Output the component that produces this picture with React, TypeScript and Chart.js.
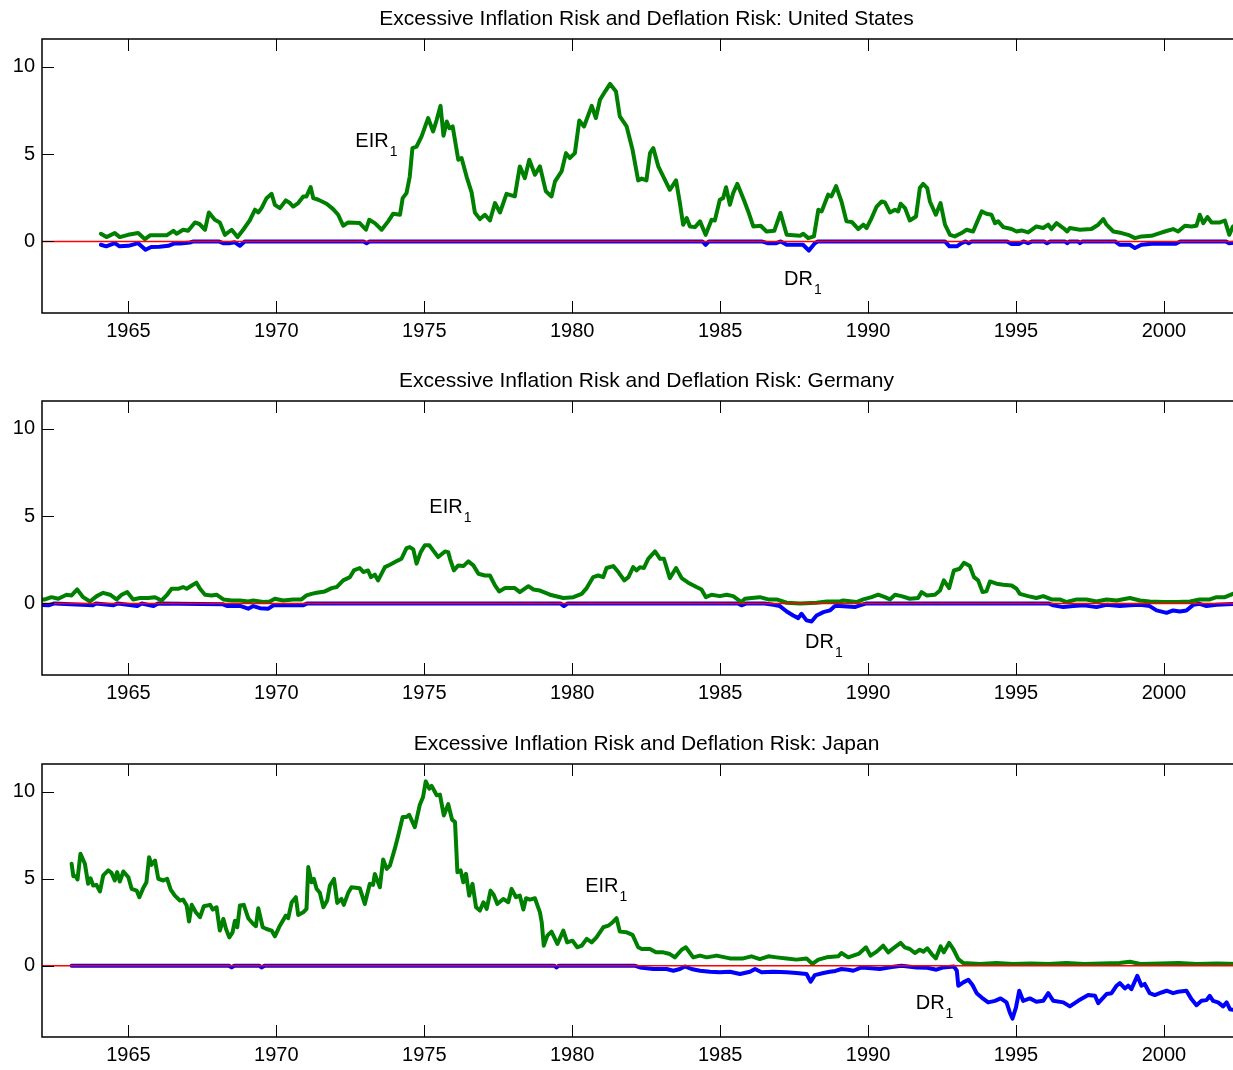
import React, { useEffect, useRef } from "react";
import { Chart, registerables } from "chart.js";

Chart.register(...registerables);

type Pt = [number, number];

// ---------- axes / ticks ----------
const xTickYears = [1965, 1970, 1975, 1980, 1985, 1990, 1995, 2000];
const yTickValues = [0, 5, 10];
const X_MIN = 1962.08;
const X_MAX = 2002.74;
const Y_MIN = -4.1;
const Y_MAX = 11.6;
const ZERO_LEVEL = 0;

// ---------- United States ----------
const usEIR: Pt[] = [
  [1964.07,0.44],[1964.26,0.25],[1964.54,0.48],[1964.71,0.25],[1964.99,0.38],[1965.33,0.48],[1965.56,0.13],[1965.73,0.35],
  [1966.29,0.35],[1966.52,0.61],[1966.63,0.44],[1966.85,0.67],[1967.02,0.61],[1967.25,1.09],[1967.4,1.0],[1967.59,0.67],
  [1967.72,1.66],[1967.92,1.24],[1968.09,1.09],[1968.26,0.38],[1968.49,0.67],[1968.69,0.25],[1968.88,0.67],[1969.1,1.2],
  [1969.28,1.82],[1969.39,1.66],[1969.5,1.91],[1969.67,2.48],[1969.84,2.73],[1969.95,2.1],[1970.12,1.91],[1970.32,2.35],
  [1970.46,2.2],[1970.57,2.0],[1970.74,2.2],[1970.91,2.58],[1971.02,2.58],[1971.16,3.11],[1971.25,2.48],[1971.42,2.39],
  [1971.7,2.16],[1971.92,1.85],[1972.09,1.53],[1972.26,0.9],[1972.43,1.09],[1972.82,1.05],[1973.03,0.67],[1973.14,1.24],
  [1973.33,1.05],[1973.56,0.67],[1973.78,1.15],[1973.95,1.59],[1974.18,1.53],[1974.27,2.48],[1974.4,2.77],[1974.51,3.72],
  [1974.6,5.35],[1974.74,5.44],[1974.91,6.02],[1975.13,7.07],[1975.3,6.3],[1975.42,6.97],[1975.55,7.77],[1975.65,6.05],
  [1975.76,6.87],[1975.85,6.49],[1975.96,6.59],[1976.15,4.68],[1976.26,4.78],[1976.43,3.72],[1976.6,2.81],[1976.71,1.66],
  [1976.88,1.28],[1977.05,1.53],[1977.22,1.2],[1977.39,2.2],[1977.56,1.66],[1977.78,2.73],[1978.06,2.58],[1978.23,4.3],
  [1978.4,3.63],[1978.55,4.68],[1978.74,3.82],[1978.91,4.3],[1979.11,2.87],[1979.3,2.58],[1979.42,3.44],[1979.64,4.01],
  [1979.79,5.06],[1979.92,4.78],[1980.09,5.06],[1980.24,6.93],[1980.4,6.59],[1980.66,7.77],[1980.8,7.07],[1980.94,8.12],
  [1981.11,8.59],[1981.28,9.03],[1981.48,8.59],[1981.61,7.16],[1981.84,6.59],[1982.04,5.25],[1982.23,3.5],[1982.35,3.6],
  [1982.51,3.5],[1982.63,5.06],[1982.74,5.35],[1982.91,4.3],[1983.08,3.72],[1983.3,2.96],[1983.51,3.5],[1983.64,2.2],
  [1983.75,0.96],[1983.87,1.34],[1983.98,0.86],[1984.15,0.82],[1984.32,1.15],[1984.51,0.38],[1984.71,1.24],[1984.82,1.2],
  [1984.99,2.39],[1985.1,2.48],[1985.2,3.11],[1985.33,2.1],[1985.44,2.77],[1985.58,3.3],[1985.8,2.39],[1985.95,1.72],
  [1986.12,0.86],[1986.37,0.9],[1986.57,0.57],[1986.83,0.61],[1987.04,1.63],[1987.25,0.38],[1987.7,0.32],[1987.81,0.44],
  [1987.98,0.19],[1988.17,0.29],[1988.32,1.82],[1988.43,1.72],[1988.65,2.68],[1988.76,2.58],[1988.92,3.17],[1989.1,2.3],
  [1989.27,1.15],[1989.45,1.12],[1989.67,0.71],[1989.84,0.96],[1989.95,0.77],[1990.12,1.34],[1990.29,2.0],[1990.46,2.29],
  [1990.57,2.24],[1990.74,1.66],[1990.91,1.82],[1991.02,1.72],[1991.1,2.16],[1991.25,1.91],[1991.41,1.2],[1991.62,1.43],
  [1991.75,3.06],[1991.86,3.3],[1992.0,3.06],[1992.09,2.29],[1992.29,1.53],[1992.45,2.2],[1992.6,0.96],[1992.77,0.38],
  [1992.93,0.29],[1993.16,0.48],[1993.33,0.67],[1993.55,0.57],[1993.67,1.05],[1993.84,1.72],[1994.0,1.59],[1994.17,1.53],
  [1994.29,1.05],[1994.4,1.15],[1994.57,0.82],[1994.85,0.71],[1995.02,0.57],[1995.19,0.63],[1995.41,0.52],[1995.69,0.86],
  [1995.92,0.77],[1996.09,0.96],[1996.2,0.71],[1996.37,1.05],[1996.6,0.77],[1996.73,0.57],[1996.82,0.77],[1997.16,0.67],
  [1997.55,0.71],[1997.78,0.96],[1997.95,1.28],[1998.06,0.96],[1998.29,0.57],[1998.57,0.48],[1998.79,0.38],[1999.02,0.19],
  [1999.24,0.29],[1999.58,0.32],[1999.86,0.48],[2000.03,0.57],[2000.31,0.71],[2000.48,0.57],[2000.71,0.9],[2000.93,0.86],
  [2001.1,0.9],[2001.21,1.53],[2001.33,1.05],[2001.47,1.4],[2001.61,1.09],[2001.89,1.09],[2002.06,1.2],[2002.21,0.38],
  [2002.33,0.86],[2002.5,1.0],
];
const usDR: Pt[] = [
  [1964.07,-0.19],[1964.25,-0.28],[1964.54,-0.1],[1964.7,-0.28],[1965.0,-0.25],[1965.33,-0.1],[1965.58,-0.48],[1965.77,-0.32],
  [1966.05,-0.3],[1966.35,-0.25],[1966.58,-0.1],[1966.75,-0.12],[1967.08,-0.06],[1967.2,0],[1968.05,0],[1968.2,-0.1],
  [1968.4,-0.1],[1968.6,-0.05],[1968.77,-0.25],[1968.93,0],[1972.95,0],[1973.05,-0.1],[1973.15,0],[1984.4,0],
  [1984.51,-0.19],[1984.62,0],[1986.4,0],[1986.6,-0.1],[1986.9,-0.1],[1987.05,0],[1987.25,-0.19],[1987.8,-0.19],
  [1988.0,-0.52],[1988.2,-0.1],[1988.3,0],[1992.6,0],[1992.75,-0.28],[1993.0,-0.28],[1993.16,-0.1],[1993.3,0],
  [1993.4,-0.1],[1993.5,0],[1994.7,0],[1994.85,-0.15],[1995.1,-0.15],[1995.25,0],[1995.41,-0.1],[1995.55,0],
  [1995.95,0],[1996.05,-0.1],[1996.15,0],[1996.65,0],[1996.73,-0.1],[1996.8,0],[1997.1,0],[1997.16,-0.1],
  [1997.25,0],[1998.35,0],[1998.5,-0.19],[1998.85,-0.19],[1999.02,-0.38],[1999.24,-0.19],[1999.6,-0.13],[2000.0,-0.13],
  [2000.4,-0.13],[2000.55,0],[2002.1,0],[2002.2,-0.1],[2002.5,-0.05],
];

// ---------- Germany ----------
const deEIR: Pt[] = [
  [1962.0,0.23],[1962.18,0.23],[1962.4,0.36],[1962.63,0.27],[1962.91,0.5],[1963.08,0.46],[1963.27,0.8],[1963.47,0.36],
  [1963.7,0.11],[1963.93,0.42],[1964.15,0.61],[1964.38,0.5],[1964.6,0.23],[1964.77,0.5],[1964.96,0.65],[1965.16,0.23],
  [1965.39,0.31],[1965.67,0.31],[1965.9,0.36],[1966.12,0.17],[1966.29,0.46],[1966.46,0.84],[1966.68,0.84],[1966.85,0.94],
  [1966.97,0.84],[1967.14,1.03],[1967.3,1.19],[1967.42,0.84],[1967.59,0.5],[1967.81,0.46],[1967.98,0.5],[1968.21,0.23],
  [1968.49,0.17],[1968.77,0.17],[1969.05,0.11],[1969.22,0.17],[1969.56,0.08],[1969.78,0.11],[1969.95,0.27],[1970.23,0.17],
  [1970.57,0.23],[1970.85,0.23],[1971.02,0.46],[1971.19,0.55],[1971.36,0.61],[1971.64,0.69],[1971.87,0.88],[1972.04,0.94],
  [1972.26,1.32],[1972.49,1.51],[1972.62,1.89],[1972.82,2.03],[1972.94,1.8],[1973.1,1.89],[1973.2,1.51],[1973.33,1.65],
  [1973.44,1.32],[1973.67,2.08],[1973.84,2.22],[1974.12,2.47],[1974.23,2.56],[1974.4,3.17],[1974.51,3.23],[1974.63,3.1],
  [1974.74,2.28],[1974.88,2.94],[1975.02,3.33],[1975.17,3.33],[1975.3,3.04],[1975.47,2.66],[1975.7,2.98],[1975.81,2.94],
  [1975.87,2.56],[1976.0,1.89],[1976.15,2.18],[1976.32,2.14],[1976.49,2.41],[1976.66,2.18],[1976.83,1.7],[1977.05,1.6],
  [1977.22,1.6],[1977.39,1.03],[1977.53,0.69],[1977.73,0.88],[1978.06,0.88],[1978.23,0.65],[1978.52,0.99],[1978.69,0.8],
  [1978.91,0.74],[1979.25,0.5],[1979.7,0.31],[1980.04,0.36],[1980.32,0.55],[1980.49,0.88],[1980.71,1.51],[1980.88,1.6],
  [1981.05,1.51],[1981.16,2.03],[1981.39,2.14],[1981.56,1.8],[1981.76,1.32],[1981.9,1.51],[1982.06,2.08],[1982.18,1.89],
  [1982.29,2.08],[1982.42,2.03],[1982.57,2.56],[1982.8,2.98],[1982.97,2.56],[1983.1,2.56],[1983.3,1.45],[1983.51,2.03],
  [1983.7,1.45],[1983.92,1.19],[1984.2,0.94],[1984.37,0.8],[1984.52,0.36],[1984.71,0.5],[1984.99,0.42],[1985.22,0.5],
  [1985.44,0.42],[1985.72,0.08],[1985.84,0.27],[1986.06,0.31],[1986.34,0.36],[1986.63,0.23],[1986.91,0.23],[1987.25,0.04],
  [1987.7,0.0],[1988.26,0.04],[1988.6,0.11],[1989.05,0.11],[1989.16,0.17],[1989.61,0.08],[1989.84,0.23],[1990.12,0.36],
  [1990.34,0.5],[1990.57,0.36],[1990.74,0.23],[1990.91,0.5],[1991.13,0.42],[1991.41,0.27],[1991.69,0.31],[1991.81,0.65],
  [1991.98,0.46],[1992.26,0.5],[1992.43,0.74],[1992.56,1.32],[1992.74,0.88],[1992.9,1.89],[1993.1,1.99],[1993.24,2.33],
  [1993.44,2.14],[1993.58,1.51],[1993.72,1.32],[1993.87,0.65],[1994.0,0.69],[1994.12,1.26],[1994.34,1.13],[1994.57,1.07],
  [1994.85,1.03],[1995.02,0.84],[1995.13,0.55],[1995.41,0.42],[1995.69,0.31],[1995.92,0.42],[1996.2,0.23],[1996.48,0.23],
  [1996.71,0.08],[1997.05,0.23],[1997.38,0.23],[1997.72,0.11],[1998.06,0.23],[1998.4,0.17],[1998.85,0.31],[1999.19,0.17],
  [1999.52,0.11],[1999.98,0.08],[2000.43,0.08],[2000.88,0.11],[2001.21,0.23],[2001.55,0.23],[2001.78,0.36],[2002.06,0.36],
  [2002.33,0.55],[2002.5,0.5],
];
const deDR: Pt[] = [
  [1962.0,-0.08],[1962.3,-0.11],[1962.5,0],[1963.8,-0.1],[1963.9,0],[1964.5,-0.1],[1964.65,0],[1965.3,-0.15],
  [1965.45,0],[1965.85,-0.15],[1966.0,0],[1968.2,-0.05],[1968.35,-0.15],[1968.8,-0.15],[1969.05,-0.3],[1969.22,-0.15],
  [1969.45,-0.27],[1969.73,-0.3],[1969.9,-0.11],[1970.5,-0.11],[1970.9,-0.11],[1971.05,0],[1979.6,0],[1979.72,-0.15],
  [1979.85,0],[1985.6,0],[1985.72,-0.11],[1985.9,0],[1986.5,0],[1986.8,-0.08],[1987.02,-0.15],[1987.25,-0.46],
  [1987.47,-0.69],[1987.64,-0.84],[1987.75,-0.59],[1987.92,-0.97],[1988.09,-1.03],[1988.26,-0.69],[1988.49,-0.5],[1988.71,-0.4],
  [1988.88,-0.15],[1989.05,-0.15],[1989.3,-0.18],[1989.55,-0.21],[1989.75,-0.1],[1989.95,0],[1996.1,0],[1996.26,-0.11],
  [1996.6,-0.21],[1996.93,-0.15],[1997.3,-0.11],[1997.72,-0.21],[1998.06,-0.08],[1998.51,-0.15],[1998.85,-0.11],[1999.2,-0.08],
  [1999.52,-0.15],[1999.75,-0.4],[2000.09,-0.54],[2000.31,-0.4],[2000.54,-0.46],[2000.76,-0.4],[2000.99,-0.08],[2001.21,-0.02],
  [2001.44,-0.15],[2001.78,-0.08],[2002.5,-0.02],
];

// ---------- Japan ----------
const jpEIR: Pt[] = [
  [1963.08,5.86],[1963.14,5.15],[1963.22,5.15],[1963.28,4.96],[1963.38,6.44],[1963.53,5.86],[1963.64,4.71],[1963.72,5.03],
  [1963.81,4.61],[1963.92,4.65],[1964.04,4.27],[1964.15,5.19],[1964.32,5.48],[1964.43,5.34],[1964.54,4.9],[1964.62,5.38],
  [1964.71,4.84],[1964.83,5.42],[1965.0,5.09],[1965.11,4.42],[1965.28,4.32],[1965.37,3.94],[1965.5,4.46],[1965.61,4.8],
  [1965.7,6.24],[1965.78,5.8],[1965.9,6.05],[1966.01,5.0],[1966.18,4.9],[1966.31,5.0],[1966.43,4.38],[1966.57,4.03],
  [1966.74,3.75],[1966.85,3.8],[1966.97,3.46],[1967.05,2.54],[1967.14,3.5],[1967.28,3.07],[1967.42,2.79],[1967.55,3.42],
  [1967.76,3.5],[1967.85,3.23],[1967.98,3.36],[1968.09,2.02],[1968.21,2.69],[1968.3,2.11],[1968.41,1.63],[1968.52,1.92],
  [1968.6,2.59],[1968.68,2.21],[1968.77,3.46],[1968.9,3.5],[1969.05,2.73],[1969.22,2.4],[1969.31,2.27],[1969.39,3.31],
  [1969.54,2.21],[1969.67,2.11],[1969.84,2.02],[1969.95,1.69],[1970.12,2.3],[1970.32,2.88],[1970.4,2.73],[1970.52,3.65],
  [1970.66,3.94],[1970.74,2.92],[1970.91,3.07],[1971.02,3.27],[1971.08,5.67],[1971.19,4.8],[1971.27,4.99],[1971.36,4.42],
  [1971.47,4.19],[1971.59,3.36],[1971.72,3.75],[1971.81,4.61],[1971.95,4.99],[1972.06,3.61],[1972.2,3.84],[1972.28,3.5],
  [1972.43,4.19],[1972.54,4.51],[1972.82,4.46],[1972.99,3.55],[1973.16,4.71],[1973.27,4.65],[1973.33,5.28],[1973.5,4.51],
  [1973.61,6.11],[1973.73,5.57],[1973.84,5.76],[1974.01,6.76],[1974.12,7.49],[1974.27,8.55],[1974.4,8.55],[1974.49,8.68],
  [1974.68,7.97],[1974.85,9.26],[1974.96,9.7],[1975.05,10.6],[1975.17,10.18],[1975.25,10.34],[1975.42,9.8],[1975.53,9.84],
  [1975.66,8.64],[1975.81,9.29],[1975.94,8.4],[1976.04,8.26],[1976.12,5.38],[1976.23,5.48],[1976.32,4.8],[1976.41,5.28],
  [1976.52,4.03],[1976.63,4.71],[1976.75,3.36],[1976.88,3.17],[1977.0,3.65],[1977.11,3.27],[1977.24,4.32],[1977.35,4.07],
  [1977.47,3.55],[1977.67,3.84],[1977.84,3.65],[1977.95,4.42],[1978.1,3.94],[1978.23,4.03],[1978.35,3.23],[1978.44,3.88],
  [1978.57,3.8],[1978.74,3.88],[1978.91,3.07],[1978.97,2.5],[1979.04,1.15],[1979.16,1.73],[1979.3,1.96],[1979.5,1.25],
  [1979.7,2.02],[1979.83,1.34],[1980.01,1.44],[1980.17,1.06],[1980.32,1.15],[1980.49,1.54],[1980.66,1.34],[1980.82,1.63],
  [1981.05,2.21],[1981.22,2.3],[1981.37,2.5],[1981.5,2.73],[1981.61,1.96],[1981.84,1.92],[1982.04,1.77],[1982.23,1.06],
  [1982.35,0.96],[1982.63,0.96],[1982.83,0.77],[1983.08,0.77],[1983.3,0.67],[1983.47,0.48],[1983.7,0.92],[1983.84,1.06],
  [1984.09,0.48],[1984.32,0.58],[1984.55,0.48],[1984.88,0.58],[1985.33,0.42],[1985.78,0.42],[1986.06,0.54],[1986.34,0.38],
  [1986.63,0.54],[1986.91,0.48],[1987.25,0.42],[1987.58,0.35],[1987.92,0.42],[1988.12,0.1],[1988.32,0.35],[1988.6,0.48],
  [1988.99,0.54],[1989.1,0.73],[1989.33,0.48],[1989.55,0.61],[1989.7,0.7],[1989.93,1.06],[1990.08,0.58],[1990.29,0.81],
  [1990.51,1.15],[1990.68,0.77],[1990.85,1.0],[1991.1,1.31],[1991.24,1.06],[1991.41,0.96],[1991.58,0.73],[1991.75,0.92],
  [1991.87,0.81],[1992.0,1.0],[1992.15,0.67],[1992.29,0.42],[1992.45,1.11],[1992.56,0.77],[1992.74,1.31],[1992.88,0.96],
  [1993.05,0.38],[1993.22,0.15],[1993.78,0.1],[1994.34,0.15],[1994.9,0.1],[1995.5,0.12],[1996.1,0.1],[1996.7,0.15],
  [1997.3,0.1],[1997.9,0.12],[1998.5,0.15],[1998.85,0.23],[1999.2,0.1],[1999.9,0.12],[2000.5,0.15],[2001.1,0.1],
  [2001.8,0.12],[2002.5,0.1],
];
const jpDR: Pt[] = [
  [1963.08,0],[1968.4,0],[1968.49,-0.1],[1968.58,0],[1969.42,0],[1969.5,-0.1],[1969.6,0],[1979.4,0],
  [1979.47,-0.1],[1979.55,0],[1982.1,0],[1982.29,-0.1],[1982.74,-0.19],[1983.19,-0.19],[1983.42,-0.29],[1983.64,-0.19],
  [1983.81,-0.04],[1984.03,-0.19],[1984.32,-0.29],[1984.65,-0.35],[1984.99,-0.38],[1985.33,-0.35],[1985.67,-0.48],[1986.01,-0.35],
  [1986.18,-0.19],[1986.4,-0.38],[1986.8,-0.35],[1987.25,-0.38],[1987.58,-0.42],[1987.92,-0.48],[1988.06,-0.92],[1988.2,-0.54],
  [1988.49,-0.42],[1988.71,-0.35],[1988.9,-0.3],[1989.1,-0.19],[1989.33,-0.23],[1989.5,-0.29],[1989.78,-0.1],[1990.1,-0.15],
  [1990.4,-0.19],[1990.8,-0.08],[1991.13,0],[1991.64,-0.1],[1992.0,-0.12],[1992.31,-0.23],[1992.54,-0.1],[1992.9,-0.04],
  [1993.0,-0.29],[1993.05,-1.15],[1993.22,-0.96],[1993.39,-0.81],[1993.53,-1.11],[1993.67,-1.58],[1993.84,-1.83],[1994.06,-2.11],
  [1994.29,-2.02],[1994.48,-1.88],[1994.68,-2.11],[1994.79,-2.69],[1994.88,-3.04],[1995.0,-2.4],[1995.11,-1.44],[1995.24,-2.02],
  [1995.47,-1.88],[1995.69,-2.07],[1995.92,-2.02],[1996.09,-1.58],[1996.26,-2.02],[1996.6,-2.11],[1996.82,-2.34],[1997.1,-2.02],
  [1997.44,-1.69],[1997.67,-1.73],[1997.78,-2.15],[1998.06,-1.63],[1998.23,-1.58],[1998.4,-1.15],[1998.51,-1.0],[1998.68,-1.31],
  [1998.79,-1.15],[1998.9,-1.35],[1999.1,-0.58],[1999.24,-1.15],[1999.35,-1.05],[1999.52,-1.58],[1999.69,-1.69],[1999.92,-1.54],
  [2000.09,-1.44],[2000.31,-1.58],[2000.48,-1.5],[2000.76,-1.44],[2000.93,-1.92],[2001.1,-2.27],[2001.27,-2.02],[2001.44,-1.98],
  [2001.55,-1.73],[2001.66,-2.02],[2001.83,-2.11],[2002.0,-2.34],[2002.12,-2.11],[2002.23,-2.5],[2002.33,-2.54],[2002.5,-2.5],
];

const FONT = '"Liberation Sans", Arial, Helvetica, sans-serif';
const TICK = 12;

type PanelCfg = {
  title: string;
  eir: Pt[];
  dr: Pt[];
  eirLabel: Pt;
  drLabel: Pt;
  canvasTop: number;
  canvasH: number;
  padTop: number;
  chartH: number;
};

const panels: PanelCfg[] = [
  {
    title: "Excessive Inflation Risk and Deflation Risk: United States",
    eir: usEIR, dr: usDR, eirLabel: [1972.67, 5.44], drLabel: [1987.16, -2.48],
    canvasTop: 0, canvasH: 352, padTop: 39, chartH: 274,
  },
  {
    title: "Excessive Inflation Risk and Deflation Risk: Germany",
    eir: deEIR, dr: deDR, eirLabel: [1975.17, 5.16], drLabel: [1987.87, -2.58],
    canvasTop: 356, canvasH: 354, padTop: 45, chartH: 274,
  },
  {
    title: "Excessive Inflation Risk and Deflation Risk: Japan",
    eir: jpEIR, dr: jpDR, eirLabel: [1980.44, 4.22], drLabel: [1991.61, -2.48],
    canvasTop: 714, canvasH: 356, padTop: 50, chartH: 273,
  },
];

const CANVAS_W = 1246;

function Panel({ cfg }: { cfg: PanelCfg }) {
  const ref = useRef<HTMLCanvasElement>(null);
  useEffect(() => {
    const canvas = ref.current;
    if (!canvas) return;
    const axisH = cfg.canvasH - cfg.padTop - cfg.chartH;
    const frame = {
      id: "frame",
      afterDatasetsDraw(chart: any) {
        const { ctx, chartArea: a, scales } = chart;
        const xs = scales.x;
        const ys = scales.y;
        ctx.save();

        // red zero reference line, on top of the series
        const zy = ys.getPixelForValue(ZERO_LEVEL);
        ctx.strokeStyle = "#ff0000";
        ctx.lineWidth = 1.5;
        ctx.beginPath();
        ctx.moveTo(a.left, zy);
        ctx.lineTo(a.right, zy);
        ctx.stroke();

        ctx.strokeStyle = "#000";
        ctx.lineWidth = 1;
        ctx.beginPath();
        for (const v of xTickYears) {
          const px = Math.round(xs.getPixelForValue(v)) + 0.5;
          ctx.moveTo(px, a.bottom);
          ctx.lineTo(px, a.bottom - TICK);
          ctx.moveTo(px, a.top);
          ctx.lineTo(px, a.top + TICK);
        }
        for (const v of yTickValues) {
          const py = Math.round(ys.getPixelForValue(v)) + 0.5;
          ctx.moveTo(a.left, py);
          ctx.lineTo(a.left + TICK, py);
          ctx.moveTo(a.right, py);
          ctx.lineTo(a.right - TICK, py);
        }
        ctx.stroke();
        ctx.lineWidth = 1.5;
        ctx.strokeRect(a.left, a.top, a.right - a.left, a.bottom - a.top);

        ctx.fillStyle = "#000";
        ctx.font = `21px ${FONT}`;
        ctx.textAlign = "center";
        ctx.textBaseline = "alphabetic";
        ctx.fillText(cfg.title, (a.left + a.right) / 2 + 3, a.top - 14.5);

        const labels: [string, Pt][] = [["EIR", cfg.eirLabel], ["DR", cfg.drLabel]];
        for (const [text, pos] of labels) {
          const px = xs.getPixelForValue(pos[0]);
          const py = ys.getPixelForValue(pos[1]);
          ctx.textAlign = "left";
          ctx.font = `20px ${FONT}`;
          ctx.fillText(text, px, py);
          const w = ctx.measureText(text).width;
          ctx.font = `14px ${FONT}`;
          ctx.fillText("1", px + w + 1, py + 9);
        }
        ctx.restore();
      },
    };

    const toXY = (arr: Pt[]) => arr.map(([x, y]) => ({ x, y }));

    const chart = new Chart(canvas, {
      type: "line",
      data: {
        datasets: [
          {
            data: toXY(cfg.eir),
            borderColor: "#008000",
            borderWidth: 4,
            pointRadius: 0,
            borderJoinStyle: "round",
            borderCapStyle: "round",
          },
          {
            data: toXY(cfg.dr),
            borderColor: "#0000ff",
            borderWidth: 4,
            pointRadius: 0,
            borderJoinStyle: "round",
            borderCapStyle: "round",
          },
        ],
      },
      options: {
        animation: false,
        responsive: false,
        maintainAspectRatio: false,
        layout: { padding: { top: cfg.padTop, right: 1, left: 0, bottom: 0 } },
        plugins: {
          legend: { display: false },
          tooltip: { enabled: false },
          title: { display: false },
        },
        scales: {
          x: {
            type: "linear",
            min: X_MIN,
            max: X_MAX,
            grid: { display: false, drawTicks: false },
            border: { display: false },
            ticks: {
              color: "#000",
              font: { family: FONT, size: 20 },
              padding: 6,
              maxRotation: 0,
              autoSkip: false,
              callback: (v: any) => String(v),
            },
            afterBuildTicks: (s: any) => {
              s.ticks = xTickYears.map((v) => ({ value: v }));
            },
            afterFit: (s: any) => {
              s.height = axisH;
            },
          },
          y: {
            type: "linear",
            min: Y_MIN,
            max: Y_MAX,
            grid: { display: false, drawTicks: false },
            border: { display: false },
            ticks: {
              color: "#000",
              font: { family: FONT, size: 20 },
              padding: 7,
              autoSkip: false,
              callback: (v: any) => String(v),
            },
            afterBuildTicks: (s: any) => {
              s.ticks = yTickValues.map((v) => ({ value: v }));
            },
            afterFit: (s: any) => {
              s.width = 42;
            },
          },
        },
      },
      plugins: [frame],
    } as any);
    return () => chart.destroy();
  }, [cfg]);

  return (
    <canvas
      ref={ref}
      width={CANVAS_W}
      height={cfg.canvasH}
      style={{ position: "absolute", left: 0, top: cfg.canvasTop, width: CANVAS_W, height: cfg.canvasH, display: "block" }}
    />
  );
}

export default function App() {
  return (
    <div
      style={{
        position: "absolute",
        left: 0,
        top: 0,
        width: 1233,
        height: 1070,
        overflow: "hidden",
        background: "#fff",
      }}
    >
      {panels.map((p, i) => (
        <Panel key={i} cfg={p} />
      ))}
    </div>
  );
}
